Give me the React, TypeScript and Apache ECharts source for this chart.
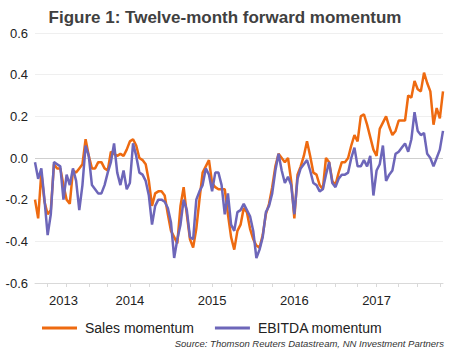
import React, { useEffect, useRef } from "react";
import * as echarts from "echarts";

const titleText = "Figure 1: Twelve-month forward momentum";
const sourceText = "Source: Thomson Reuters Datastream, NN Investment Partners";
const seriesNames = ["Sales momentum", "EBITDA momentum"];
const startDate = "2013-05-17";
const stepDays = 14;
const yearLabelTargets = ["2013-09-08", "2014-07-01", "2015-07-01", "2016-07-01", "2017-07-01"];

const salesMomentum = [
  -0.20, -0.29, -0.07, -0.21, -0.27, -0.25, -0.03, -0.05, -0.05, -0.13,
  -0.20, -0.22, -0.06, -0.07, -0.05, -0.03, 0.09, 0.01, -0.05, -0.05,
  -0.02, -0.02, -0.05, -0.06, 0.03, 0.02, 0.01, 0.02, 0.01, 0.04,
  0.08, 0.09, 0.06, 0.00, -0.01, -0.03, -0.11, -0.23, -0.17, -0.16,
  -0.16, -0.18, -0.27, -0.35, -0.38, -0.41, -0.23, -0.14, -0.27, -0.39,
  -0.43, -0.34, -0.20, -0.07, -0.04, -0.01, -0.12, -0.14, -0.15, -0.15,
  -0.15, -0.27, -0.38, -0.44, -0.35, -0.32, -0.24, -0.26, -0.34, -0.39,
  -0.42, -0.43, -0.37, -0.27, -0.22, -0.14, -0.04, 0.02, 0.00, -0.02,
  0.00, -0.11, -0.29, -0.08, -0.04, 0.01, 0.08, 0.01, -0.07, -0.08,
  -0.13, -0.15, 0.00, -0.02, -0.11, -0.13, -0.07, -0.02, -0.02, 0.00,
  0.06, 0.11, 0.08, 0.20, 0.21, 0.16, 0.10, 0.04, 0.01, 0.14,
  0.17, 0.20, 0.15, 0.11, 0.13, 0.18, 0.18, 0.18, 0.30, 0.29,
  0.37, 0.33, 0.32, 0.41, 0.36, 0.32, 0.16, 0.24, 0.19, 0.32,
];

const ebitdaMomentum = [
  -0.02, -0.10, -0.05, -0.20, -0.37, -0.27, -0.02, -0.03, -0.04, -0.20,
  -0.08, -0.13, -0.05, -0.11, -0.25, -0.13, 0.06, 0.01, -0.13, -0.15,
  -0.17, -0.17, -0.13, -0.07, -0.02, 0.07, -0.07, -0.13, -0.06, -0.15,
  -0.12, 0.07, 0.01, -0.07, -0.08, -0.11, -0.18, -0.32, -0.23, -0.20,
  -0.20, -0.21, -0.24, -0.31, -0.48, -0.39, -0.32, -0.20, -0.25, -0.38,
  -0.39, -0.20, -0.16, -0.13, -0.05, -0.08, -0.16, -0.07, -0.07, -0.13,
  -0.27, -0.17, -0.32, -0.35, -0.26, -0.25, -0.22, -0.25, -0.28, -0.35,
  -0.48, -0.44, -0.38, -0.26, -0.23, -0.17, -0.06, 0.02, -0.06, -0.12,
  -0.09, -0.13, -0.27, -0.10, -0.05, -0.03, -0.01, -0.06, -0.12, -0.13,
  -0.16, -0.15, -0.08, -0.02, -0.12, -0.14, -0.10, -0.08, -0.08, -0.07,
  0.00, 0.05, -0.04, -0.04, -0.01, -0.04, 0.01, -0.18, -0.06, -0.03,
  0.06, -0.11, -0.08, -0.06, 0.02, 0.03, 0.05, 0.07, 0.03, 0.09,
  0.22, 0.13, 0.11, 0.12, 0.02, 0.00, -0.04, 0.00, 0.04, 0.13,
];

const FONT = "'Liberation Sans', Arial, sans-serif";

export default function App() {
  const ref = useRef<HTMLDivElement>(null);
  useEffect(() => {
    if (!ref.current) return;
    const chart = echarts.init(ref.current, undefined, { renderer: "svg" });
    const start = new Date(startDate + "T00:00:00Z").getTime();
    const dates = salesMomentum.map((_, i) =>
      new Date(start + i * stepDays * 86400000).toISOString().slice(0, 10)
    );
    const labelIdx = new Set<number>();
    yearLabelTargets.forEach((t) => {
      const k = dates.findIndex((d) => d >= t);
      if (k >= 0) labelIdx.add(k);
    });
    const tickIdx = new Set<number>();
    const quarterOf = (d: string) => d.slice(0, 4) + "-" + Math.floor((parseInt(d.slice(5, 7)) - 1) / 3);
    for (let i = 1; i < dates.length; i++) {
      if (quarterOf(dates[i]) !== quarterOf(dates[i - 1])) tickIdx.add(i);
    }
    chart.setOption({
      animation: false,
      title: {
        text: titleText,
        left: "center",
        top: 4,
        textStyle: { fontFamily: FONT, fontSize: 17, fontWeight: "bold", color: "#404040" },
      },
      grid: { left: 35, right: 7, top: 33, bottom: 67 },
      legend: {
        left: 37,
        top: 316,
        icon: "rect",
        itemWidth: 35,
        itemHeight: 3,
        itemGap: 21,
        textStyle: { fontFamily: FONT, fontSize: 14, color: "#222", padding: [0, 0, 0, 3] },
        data: seriesNames,
      },
      xAxis: {
        type: "category",
        data: dates,
        boundaryGap: false,
        axisLine: { onZero: false, lineStyle: { color: "#d9d9d9", width: 1 } },
        axisTick: {
          show: true,
          length: 4,
          interval: (i: number) => tickIdx.has(i),
          lineStyle: { color: "#d9d9d9" },
        },
        axisLabel: {
          interval: (i: number) => labelIdx.has(i),
          formatter: (v: string) => v.slice(0, 4),
          fontFamily: FONT,
          fontSize: 13,
          color: "#222",
          margin: 11,
        },
        splitLine: { show: false },
      },
      yAxis: {
        type: "value",
        min: -0.6,
        max: 0.6,
        interval: 0.2,
        axisLine: { show: false },
        axisTick: { show: false },
        axisLabel: {
          formatter: (v: number) => v.toFixed(1),
          fontFamily: FONT,
          fontSize: 13,
          color: "#222",
          margin: 7,
        },
        splitLine: {
          lineStyle: {
            color: ["#e0e0e0", "#efefef", "#efefef", "#cfcfcf", "#efefef", "#efefef", "#efefef"],
            width: 1,
          },
        },
      },
      series: [
        {
          name: seriesNames[0],
          type: "line",
          data: salesMomentum,
          symbol: "none",
          lineStyle: { color: "#EE6A10", width: 2.5 },
          itemStyle: { color: "#EE6A10" },
        },
        {
          name: seriesNames[1],
          type: "line",
          data: ebitdaMomentum,
          symbol: "none",
          lineStyle: { color: "#6D66B9", width: 2.5 },
          itemStyle: { color: "#6D66B9" },
        },
      ],
      graphic: [
        {
          type: "text",
          right: 6,
          bottom: 2,
          style: {
            text: sourceText,
            fontFamily: FONT,
            fontSize: 9.5,
            fontStyle: "italic",
            fill: "#333",
          },
        },
      ],
    });
    return () => chart.dispose();
  }, []);
  return (
    <div
      ref={ref}
      style={{ position: "fixed", left: 0, top: 0, width: 450, height: 350, background: "#fff" }}
    />
  );
}
